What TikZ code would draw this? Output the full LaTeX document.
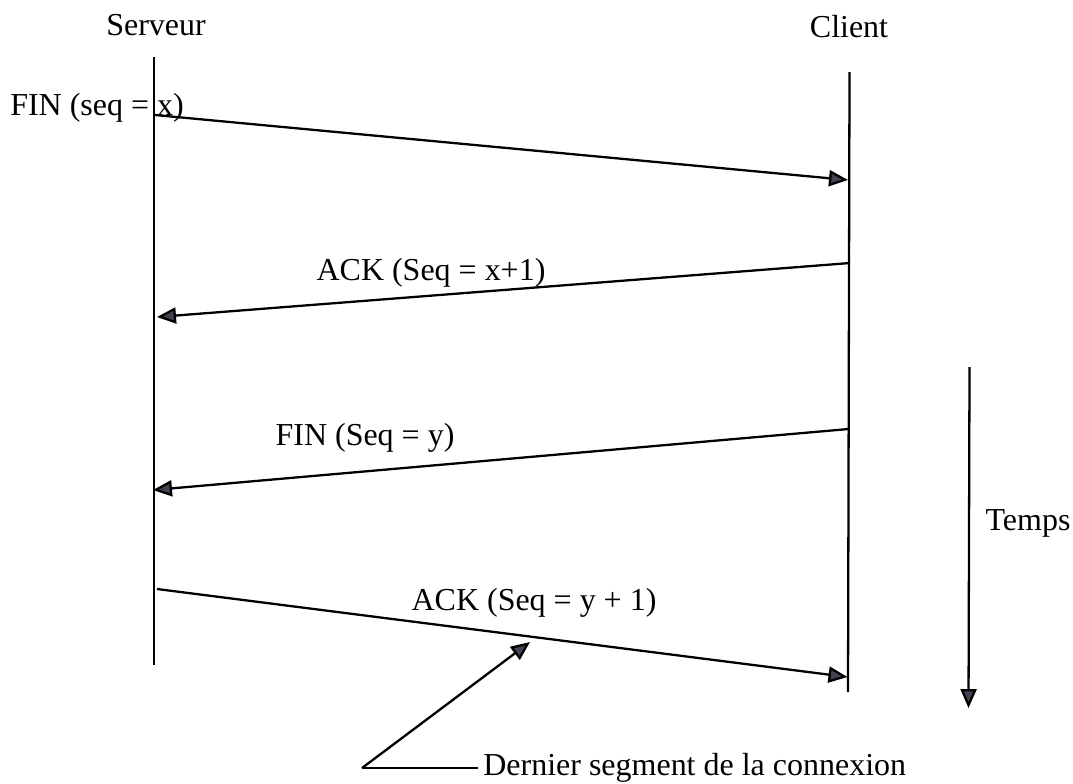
\documentclass[tikz,border=0pt]{standalone}
\usepackage{fontspec}
\setmainfont{Liberation Serif}
\usetikzlibrary{arrows.meta}

\definecolor{tipgray}{RGB}{66,66,82}

\begin{document}
\begin{tikzpicture}[
    every node/.style={font=\fontsize{18.2}{22}\selectfont},
    life/.style={line width=1.3pt},
    msg/.style={line width=1.3pt, -{Triangle[length=0.38cm, width=0.32cm, fill=tipgray]}}
]
\useasboundingbox (0,0) rectangle (21.46,-15.66);

% the two ends of the connection
\node (serveur) at (3.12,-0.50) {Serveur};
\node (client) at (16.98,-0.54) {Client};

\coordinate (stop) at (3.08,-1.14);
\coordinate (sbot) at (3.08,-13.30);
\coordinate (ctop) at (16.99,-1.44);
\coordinate (cbot) at (16.96,-13.84);
\draw[life] (stop) -- (sbot);
\draw[life] (ctop) -- (cbot);

% message end points
\coordinate (s1) at (3.10,-2.30);
\coordinate (c1) at (16.96,-3.60);
\coordinate (c2) at (17.00,-5.26);
\coordinate (s2) at (3.14,-6.34);
\coordinate (c3) at (16.97,-8.58);
\coordinate (s3) at (3.06,-9.80);
\coordinate (s4) at (3.14,-11.78);
\coordinate (c4) at (16.95,-13.54);

\draw[msg] (s1) -- (c1);
\draw[msg] (c2) -- (s2);
\draw[msg] (c3) -- (s3);
\draw[msg] (s4) -- (c4);

\node (finx) at (1.94,-2.16) {FIN (seq = x)};
\node (ackx) at (8.62,-5.46) {ACK (Seq = x+1)};
\node (finy) at (7.30,-8.76) {FIN (Seq = y)};
\node (acky) at (10.68,-12.06) {ACK (Seq = y + 1)};

% time goes down
\coordinate (t0) at (19.39,-7.34);
\coordinate (t1) at (19.37,-14.16);
\draw[msg] (t0) -- (t1);
\node (temps) at (20.56,-10.46) {Temps};

% pointer to the last segment
\coordinate (pk) at (7.24,-15.36);
\coordinate (pe) at (9.56,-15.36);
\coordinate (pt) at (10.60,-12.84);
\node[anchor=west, inner sep=0pt] (dernier) at (9.66,-15.36) {Dernier segment de la connexion};
\draw[life] (pe) -- (pk);
\draw[msg] (pk) -- (pt);

\end{tikzpicture}
\end{document}
